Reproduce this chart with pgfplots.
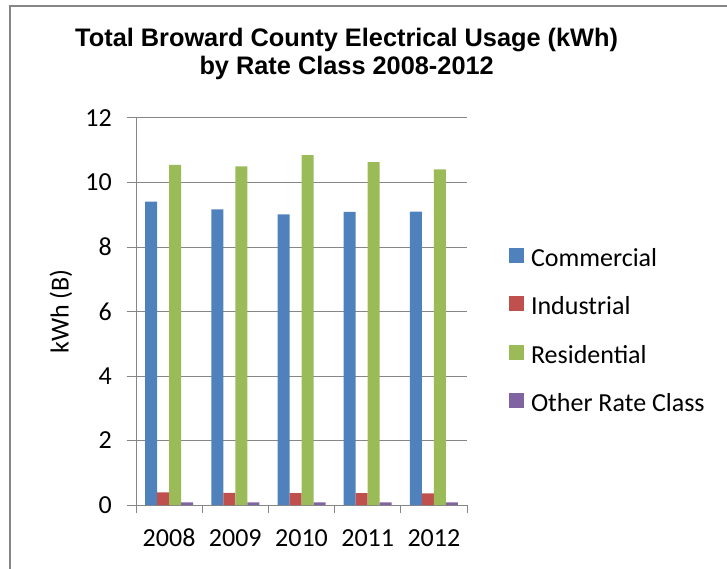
\documentclass[border=0pt]{standalone}
\usepackage{fontspec}
\setmainfont{Carlito}
\newfontfamily\titlefont{Liberation Sans}
\usepackage{pgfplots}
\pgfplotsset{compat=1.18}
\definecolor{cBlue}{HTML}{4F81BD}
\definecolor{cRed}{HTML}{C0504D}
\definecolor{cGreen}{HTML}{9BBB59}
\definecolor{cPurple}{HTML}{8064A2}
\definecolor{axGray}{HTML}{868686}
\definecolor{frameGray}{HTML}{878787}
\begin{document}
\begin{tikzpicture}
\path[use as bounding box] (0,0) rectangle (545.25pt,426pt);
\draw[color=frameGray, line width=1.5pt] (7.5pt,-2pt) -- (7.5pt,421.5pt) -- (547pt,421.5pt);
\node[anchor=base, inner sep=0pt, font=\titlefont\bfseries\fontsize{19}{21}\selectfont] at (260pt,390.75pt) {Total Broward County Electrical Usage (kWh)};
\node[anchor=base, inner sep=0pt, font=\titlefont\bfseries\fontsize{19}{21}\selectfont] at (260pt,369.75pt) {by Rate Class 2008-2012};
\begin{axis}[
  at={(102pt,47.25pt)}, anchor=south west,
  width=248.25pt, height=290.25pt, scale only axis,
  ybar=0pt, bar width=9pt,
  xmin=-0.5, xmax=4.5, ymin=0, ymax=12,
  xtick={0,1,2,3,4}, xticklabels={2008,2009,2010,2011,2012},
  minor xtick={-0.5,0.5,1.5,2.5,3.5,4.5},
  ytick={0,2,4,6,8,10,12},
  axis lines=left,
  axis line style={-, draw=axGray, line width=0.75pt},
  ymajorgrids, grid style={draw=axGray, line width=0.75pt},
  tick align=outside,
  tick style={draw=axGray, line width=0.75pt},
  major x tick style={draw=none},
  major tick length=7pt, minor tick length=6pt,
  tick label style={font=\fontsize{19.5}{22}\selectfont},
  /pgf/number format/assume math mode=true,
  yticklabel style={anchor=east, inner sep=0pt, xshift=-11pt},
  xticklabel style={anchor=base, inner sep=0pt, yshift=-24pt},
  ylabel={kWh (B)},
  ylabel style={at={(axis description cs:-0.2266,0.5)}, anchor=center, font=\fontsize{19.5}{22}\selectfont},
  legend image code/.code={\fill[#1] (0pt,-2.4pt) rectangle (11.25pt,8.85pt);},
  legend cell align=left,
  legend style={at={(1.1269,0.6642)}, anchor=north west, draw=none, fill=none,
    inner sep=0pt, outer sep=0pt, row sep=18.2pt, column sep=5.25pt,
    font=\fontsize{19.5}{22}\selectfont,
    nodes={inner sep=0pt, text height=14pt, text depth=4pt}},
]
\addplot[fill=cBlue, draw=none] coordinates {(0,9.41) (1,9.17) (2,9.01) (3,9.09) (4,9.10)};
\addplot[fill=cRed, draw=none] coordinates {(0,0.39) (1,0.38) (2,0.37) (3,0.37) (4,0.36)};
\addplot[fill=cGreen, draw=none] coordinates {(0,10.55) (1,10.50) (2,10.85) (3,10.63) (4,10.41)};
\addplot[fill=cPurple, draw=none] coordinates {(0,0.08) (1,0.08) (2,0.08) (3,0.08) (4,0.08)};
\legend{Commercial, Industrial, Residential, Other Rate Class}
\end{axis}
\end{tikzpicture}
\end{document}
